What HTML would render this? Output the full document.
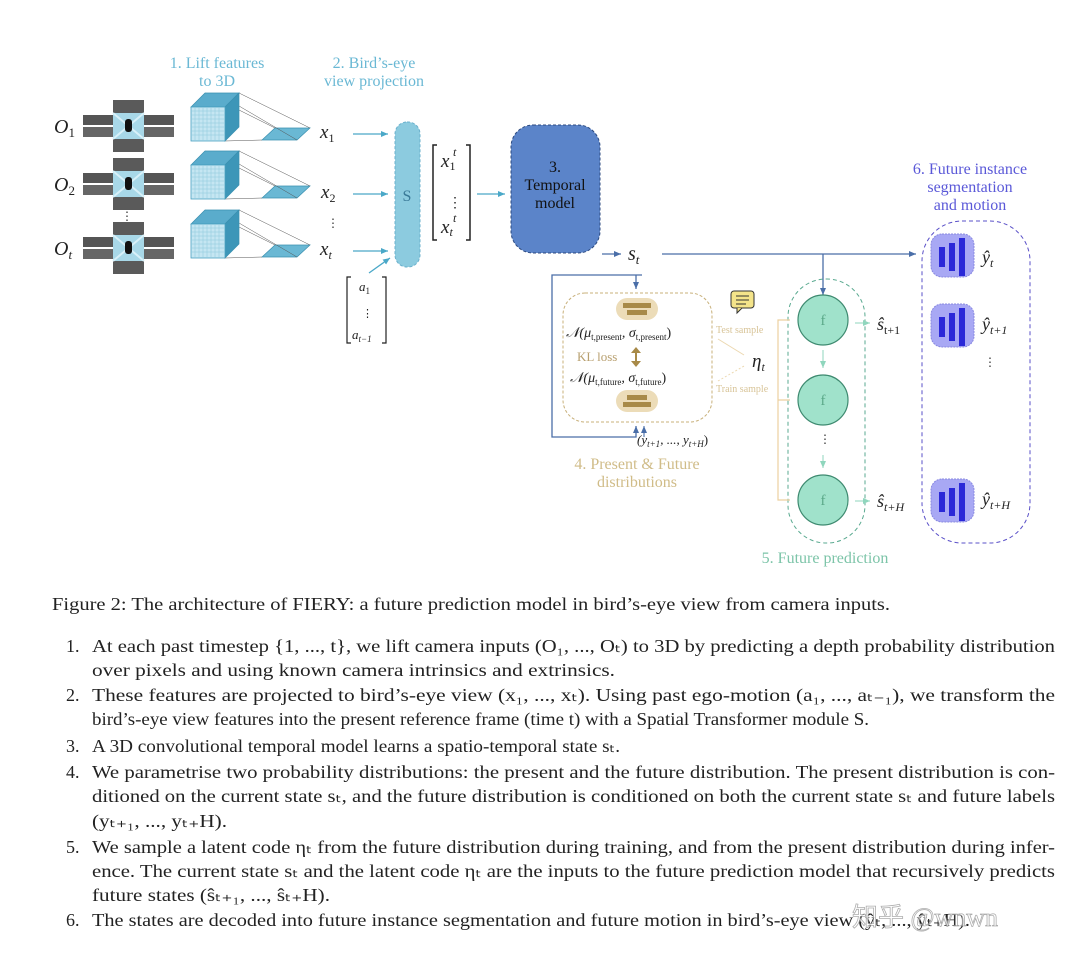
<!DOCTYPE html>
<html><head><meta charset="utf-8"><style>
html,body{margin:0;padding:0;background:#fff;width:1080px;height:957px;overflow:hidden}
svg{display:block}
text{font-family:"Liberation Serif",serif}
.it{font-style:italic}
.b{fill:#222;font-size:18px}
</style></head><body>
<svg width="1080" height="957" viewBox="0 0 1080 957" xmlns="http://www.w3.org/2000/svg">
<defs>
<marker id="ab" markerWidth="8" markerHeight="8" refX="7" refY="4" orient="auto" markerUnits="userSpaceOnUse"><path d="M0,1 L7,4 L0,7 z" fill="#4aa8c8"/></marker>
<marker id="ad" markerWidth="8" markerHeight="8" refX="7" refY="4" orient="auto" markerUnits="userSpaceOnUse"><path d="M0,1 L7,4 L0,7 z" fill="#4a6ea8"/></marker>
<marker id="ag" markerWidth="8" markerHeight="8" refX="7" refY="4" orient="auto" markerUnits="userSpaceOnUse"><path d="M0,1 L7,4 L0,7 z" fill="#8fd6bd"/></marker>
<marker id="at" markerWidth="8" markerHeight="8" refX="7" refY="4" orient="auto" markerUnits="userSpaceOnUse"><path d="M0,1 L7,4 L0,7 z" fill="#e8c898"/></marker>
</defs>

<g fill="#6ab8d4" font-size="16" text-anchor="middle">
<text x="217" y="68">1. Lift features</text><text x="217" y="86">to 3D</text>
<text x="374" y="68">2. Bird’s-eye</text><text x="374" y="86">view projection</text>
</g>

<g class="it" font-size="20" fill="#222">
<text x="54" y="133">O<tspan font-size="13" dy="4" font-style="normal">1</tspan></text>
<text x="54" y="191">O<tspan font-size="13" dy="4" font-style="normal">2</tspan></text>
<text x="54" y="255">O<tspan font-size="13" dy="4" class="it">t</tspan></text>
</g>

<g id="cam">
<rect x="83" y="115" width="30" height="10" fill="#555"/><rect x="83" y="127" width="30" height="10" fill="#666"/>
<rect x="144" y="115" width="30" height="10" fill="#555"/><rect x="144" y="127" width="30" height="10" fill="#666"/>
<rect x="113" y="100" width="31" height="14" fill="#5a5a5a"/><rect x="113" y="138" width="31" height="14" fill="#5a5a5a"/>
<rect x="113" y="113" width="31" height="26" fill="#a8d8e8"/>
<path d="M113,113 L144,139 M144,113 L113,139" stroke="#d8f0f8" stroke-width="2"/>
<rect x="125" y="119" width="7" height="13" rx="3" fill="#111"/>
</g>
<use href="#cam" y="58"/>
<use href="#cam" y="122"/>
<text x="127" y="220" font-size="12" fill="#333" text-anchor="middle">⋮</text>

<g id="cube">
<path d="M262,140 L275,128 L310,128 L297,140 z" fill="#6ab8d4" stroke="#3a90b0" stroke-width="0.7"/>
<path d="M239,93 L310,128 M239,106 L297,140 M225,141 L262,140 M205,93 L275,128" stroke="#555" stroke-width="0.5" fill="none"/>
<path d="M191,107 L205,93 L239,93 L225,107 z" fill="#5aaccc" stroke="#3a90b0" stroke-width="0.7"/>
<path d="M225,107 L239,93 L239,127 L225,141 z" fill="#3d96b8" stroke="#3a90b0" stroke-width="0.7"/>
<rect x="191" y="107" width="34" height="34" fill="#c5e6f2" stroke="#4aa0c0" stroke-width="0.8"/>
<path d="M195,107v34M199,107v34M203,107v34M207,107v34M211,107v34M215,107v34M219,107v34M191,111h34M191,115h34M191,119h34M191,123h34M191,127h34M191,131h34M191,135h34" stroke="#8cc8dc" stroke-width="0.5"/>
</g>
<use href="#cube" y="58"/>
<use href="#cube" y="117"/>

<g class="it" font-size="19" fill="#222">
<text x="320" y="138">x<tspan font-size="12" dy="4" font-style="normal">1</tspan></text>
<text x="321" y="198">x<tspan font-size="12" dy="4" font-style="normal">2</tspan></text>
<text x="320" y="255">x<tspan font-size="12" dy="4">t</tspan></text>
</g>
<text x="327" y="227" font-size="12" fill="#333">⋮</text>
<g stroke="#4aa8c8" stroke-width="1.3" marker-end="url(#ab)">
<line x1="353" y1="134" x2="388" y2="134"/><line x1="353" y1="194" x2="388" y2="194"/><line x1="353" y1="251" x2="388" y2="251"/>
<line x1="369" y1="273" x2="390" y2="258"/><line x1="477" y1="194" x2="505" y2="194"/>
</g>
<rect x="395" y="122" width="25" height="145" rx="12" fill="#8ccbdf" stroke="#6ab0cc" stroke-dasharray="3,2"/>
<text x="407" y="201" font-size="16" fill="#3a7a98" text-anchor="middle">S</text>

<path d="M437,145 h-4 v95 h4 M466,145 h4 v95 h-4" stroke="#222" stroke-width="1.5" fill="none"/>
<text x="441" y="167" class="it" font-size="19" fill="#222">x<tspan font-size="12" dy="3" font-style="normal">1</tspan></text>
<text x="453" y="156" class="it" font-size="12" fill="#222">t</text>
<text x="448" y="207" font-size="14" fill="#222">⋮</text>
<text x="441" y="233" class="it" font-size="19" fill="#222">x<tspan font-size="12" dy="3">t</tspan></text>
<text x="453" y="222" class="it" font-size="12" fill="#222">t</text>

<path d="M351,277 h-4 v66 h4 M382,277 h4 v66 h-4" stroke="#222" stroke-width="1.2" fill="none"/>
<text x="359" y="291" class="it" font-size="13" fill="#222">a<tspan font-size="9" dy="3" font-style="normal">1</tspan></text>
<text x="362" y="317" font-size="11" fill="#222">⋮</text>
<text x="352" y="339" class="it" font-size="13" fill="#222">a<tspan font-size="9" dy="3">t−1</tspan></text>

<rect x="511" y="125" width="89" height="128" rx="22" fill="#5b84c9" stroke="#2c4a80" stroke-dasharray="3,2"/>
<g font-size="16" fill="#111" text-anchor="middle"><text x="555" y="172">3.</text><text x="555" y="190">Temporal</text><text x="555" y="208">model</text></g>

<line x1="602" y1="254" x2="621" y2="254" stroke="#4a6ea8" stroke-width="1.2" marker-end="url(#ad)"/>
<text x="628" y="260" class="it" font-size="20" fill="#222">s<tspan font-size="13" dy="4">t</tspan></text>
<line x1="662" y1="254" x2="916" y2="254" stroke="#4a6ea8" stroke-width="1.3" marker-end="url(#ad)"/>
<line x1="823" y1="254" x2="823" y2="295" stroke="#4a6ea8" stroke-width="1.3" marker-end="url(#ad)"/>
<path d="M636,275 H552 V437 H636 V426" stroke="#4a6ea8" stroke-width="1.3" fill="none" marker-end="url(#ad)"/>
<path d="M636,275 h6 M636,275 V289" stroke="#4a6ea8" stroke-width="1.3" fill="none" marker-end="url(#ad)"/>
<path d="M644,437 V426" stroke="#4a6ea8" stroke-width="1.1" fill="none" marker-end="url(#ad)"/>

<rect x="563" y="293" width="149" height="129" rx="22" fill="#fff" stroke="#c8b07a" stroke-dasharray="3,2"/>
<rect x="616" y="298" width="42" height="22" rx="11" fill="#ecdcb8"/>
<rect x="623" y="303" width="28" height="5" fill="#a88a48"/><rect x="627" y="310" width="20" height="5" fill="#a88a48"/>
<rect x="616" y="390" width="42" height="22" rx="11" fill="#ecdcb8"/>
<rect x="627" y="395" width="20" height="5" fill="#a88a48"/><rect x="623" y="402" width="28" height="5" fill="#a88a48"/>
<text x="566" y="337" font-size="14" fill="#222" class="it">𝒩(μ<tspan font-size="9" dy="3" font-style="normal">t,present</tspan><tspan dy="-3">, σ</tspan><tspan font-size="9" dy="3" font-style="normal">t,present</tspan><tspan dy="-3" font-style="normal">)</tspan></text>
<text x="570" y="382" font-size="14" fill="#222" class="it">𝒩(μ<tspan font-size="9" dy="3" font-style="normal">t,future</tspan><tspan dy="-3">, σ</tspan><tspan font-size="9" dy="3" font-style="normal">t,future</tspan><tspan dy="-3" font-style="normal">)</tspan></text>
<text x="577" y="361" font-size="13" fill="#b8a070">KL loss</text>
<path d="M636,347 L631,353 H635 V361 H631 L636,367 L641,361 H637 V353 H641 z" fill="#a88a48"/>

<rect x="731" y="291" width="23" height="17" rx="3" fill="#f4e48a" stroke="#333" stroke-width="1"/>
<path d="M736,296h13M736,300h13M736,304h10" stroke="#333" stroke-width="1"/>
<path d="M737,308 l0,5 l5,-5" fill="#f4e48a" stroke="#333" stroke-width="1"/>
<text x="716" y="333" font-size="10" fill="#d8c498">Test sample</text>
<text x="716" y="392" font-size="10" fill="#d8c498">Train sample</text>
<line x1="718" y1="339" x2="744" y2="355" stroke="#ecd8b0" stroke-width="1"/>
<line x1="718" y1="381" x2="744" y2="366" stroke="#ecd8b0" stroke-width="1" stroke-dasharray="2,2"/>
<text x="752" y="367" class="it" font-size="19" fill="#222">η<tspan font-size="12" dy="4">t</tspan></text>
<text x="637" y="444" class="it" font-size="13" fill="#222">(y<tspan font-size="9" dy="3">t+1</tspan><tspan dy="-3">, ..., y</tspan><tspan font-size="9" dy="3">t+H</tspan><tspan dy="-3" font-style="normal">)</tspan></text>
<g fill="#d0bc88" font-size="16" text-anchor="middle"><text x="637" y="469">4. Present &amp; Future</text><text x="637" y="487">distributions</text></g>

<rect x="788" y="279" width="77" height="264" rx="38" fill="none" stroke="#5aaa90" stroke-dasharray="4,3"/>
<path d="M790,320 H778 V500 H790 M778,400 H790" stroke="#ecd0a0" stroke-width="1.2" fill="none"/>
<g fill="#a0e2cb" stroke="#3e8a70" stroke-width="1.2">
<circle cx="823" cy="320" r="25"/><circle cx="823" cy="400" r="25"/><circle cx="823" cy="500" r="25"/></g>
<g fill="#5aa888" font-size="15" text-anchor="middle"><text x="823" y="325">f</text><text x="823" y="405">f</text><text x="823" y="505">f</text></g>
<line x1="823" y1="350" x2="823" y2="368" stroke="#8fd6bd" marker-end="url(#ag)"/>
<line x1="823" y1="455" x2="823" y2="468" stroke="#8fd6bd" marker-end="url(#ag)"/>
<text x="819" y="443" font-size="12" fill="#333">⋮</text>
<line x1="855" y1="323" x2="870" y2="323" stroke="#8fd6bd" marker-end="url(#ag)"/>
<line x1="855" y1="501" x2="870" y2="501" stroke="#8fd6bd" marker-end="url(#ag)"/>
<text x="877" y="330" class="it" font-size="18" fill="#222">ŝ<tspan font-size="12" dy="4" font-style="normal">t+1</tspan></text>
<text x="877" y="507" class="it" font-size="18" fill="#222">ŝ<tspan font-size="12" dy="4">t+H</tspan></text>
<text x="825" y="563" fill="#7cc4a8" font-size="16" text-anchor="middle">5. Future prediction</text>

<g fill="#5a58d8" font-size="16" text-anchor="middle"><text x="970" y="174">6. Future instance</text><text x="970" y="192">segmentation</text><text x="970" y="210">and motion</text></g>
<rect x="922" y="221" width="108" height="322" rx="40" fill="none" stroke="#5a50c8" stroke-dasharray="4,3"/>
<g id="ic">
<rect x="931" y="234" width="43" height="43" rx="11" fill="#a8a8f4" stroke="#8888e0" stroke-dasharray="2,1"/>
<rect x="939" y="247" width="6" height="20" fill="#2a28d8"/><rect x="949" y="243" width="6" height="28" fill="#2a28d8"/><rect x="959" y="238" width="6" height="38" fill="#2a28d8"/>
</g>
<use href="#ic" y="70"/><use href="#ic" y="245"/>
<text x="982" y="263" class="it" font-size="18" fill="#222">ŷ<tspan font-size="12" dy="4">t</tspan></text>
<text x="982" y="330" class="it" font-size="18" fill="#222">ŷ<tspan font-size="12" dy="4">t+1</tspan></text>
<text x="982" y="505" class="it" font-size="18" fill="#222">ŷ<tspan font-size="12" dy="4">t+H</tspan></text>
<text x="984" y="366" font-size="12" fill="#333">⋮</text>

<text x="52" y="610" class="b" textLength="838" lengthAdjust="spacingAndGlyphs">Figure 2: The architecture of FIERY: a future prediction model in bird’s-eye view from camera inputs.</text>
<g class="b">
<text x="66" y="652">1.</text><text x="92" y="652" textLength="963" lengthAdjust="spacingAndGlyphs">At each past timestep {1, ..., t}, we lift camera inputs (O₁, ..., Oₜ) to 3D by predicting a depth probability distribution</text>
<text x="92" y="676" textLength="523" lengthAdjust="spacingAndGlyphs">over pixels and using known camera intrinsics and extrinsics.</text>
<text x="66" y="701">2.</text><text x="92" y="701" textLength="963" lengthAdjust="spacingAndGlyphs">These features are projected to bird’s-eye view (x₁, ..., xₜ). Using past ego-motion (a₁, ..., aₜ₋₁), we transform the</text>
<text x="92" y="725" textLength="777" lengthAdjust="spacingAndGlyphs">bird’s-eye view features into the present reference frame (time t) with a Spatial Transformer module S.</text>
<text x="66" y="752">3.</text><text x="92" y="752" textLength="528" lengthAdjust="spacingAndGlyphs">A 3D convolutional temporal model learns a spatio-temporal state sₜ.</text>
<text x="66" y="778">4.</text><text x="92" y="778" textLength="963" lengthAdjust="spacingAndGlyphs">We parametrise two probability distributions: the present and the future distribution. The present distribution is con-</text>
<text x="92" y="802" textLength="963" lengthAdjust="spacingAndGlyphs">ditioned on the current state sₜ, and the future distribution is conditioned on both the current state sₜ and future labels</text>
<text x="92" y="827" textLength="135" lengthAdjust="spacingAndGlyphs">(yₜ₊₁, ..., yₜ₊H).</text>
<text x="66" y="853">5.</text><text x="92" y="853" textLength="963" lengthAdjust="spacingAndGlyphs">We sample a latent code ηₜ from the future distribution during training, and from the present distribution during infer-</text>
<text x="92" y="877" textLength="963" lengthAdjust="spacingAndGlyphs">ence. The current state sₜ and the latent code ηₜ are the inputs to the future prediction model that recursively predicts</text>
<text x="92" y="901" textLength="238" lengthAdjust="spacingAndGlyphs">future states (ŝₜ₊₁, ..., ŝₜ₊H).</text>
<text x="66" y="926">6.</text><text x="92" y="926" textLength="878" lengthAdjust="spacingAndGlyphs">The states are decoded into future instance segmentation and future motion in bird’s-eye view (ŷₜ, ..., ŷₜ₊H).</text>
</g>
<text x="852" y="926" font-family="'Liberation Sans','Noto Sans CJK SC',sans-serif" font-size="26" fill="#fff" stroke="#999" stroke-width="0.8" opacity="0.8">知乎 @wnwn</text>
</svg>
</body></html>
